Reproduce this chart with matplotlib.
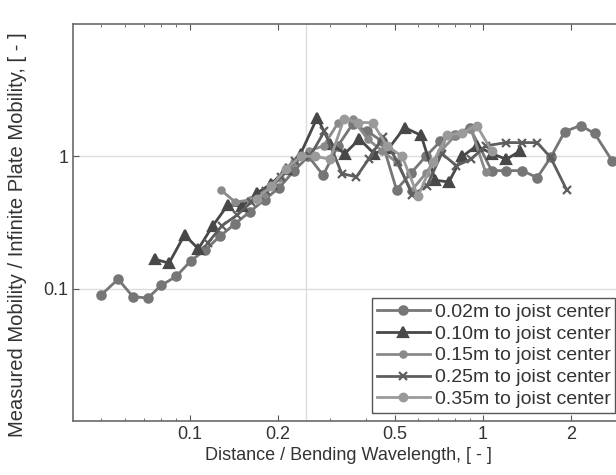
import matplotlib
matplotlib.use("Agg")
import matplotlib.pyplot as plt
from matplotlib.ticker import FixedLocator, NullFormatter, FixedFormatter

plt.rcParams['font.family'] = ['Liberation Sans', 'DejaVu Sans']

labels = ["0.02m to joist center", "0.10m to joist center", "0.15m to joist center",
          "0.25m to joist center", "0.35m to joist center"]

x_a = [0.050, 0.057, 0.064, 0.072, 0.080, 0.090, 0.101, 0.113, 0.127, 0.143, 0.160, 0.180,
       0.202, 0.227, 0.254, 0.285, 0.320, 0.359, 0.403, 0.452, 0.507, 0.569, 0.638, 0.716,
       0.803, 0.901, 1.07, 1.20, 1.36, 1.53, 1.70, 1.90, 2.15, 2.40, 2.75]
y_a = [0.090, 0.118, 0.087, 0.085, 0.106, 0.124, 0.163, 0.196, 0.25, 0.31, 0.38, 0.47,
       0.58, 0.78, 1.00, 0.72, 1.20, 1.75, 1.55, 1.30, 0.56, 0.75, 1.00, 1.30,
       1.45, 1.65, 0.78, 0.78, 0.78, 0.69, 0.98, 1.54, 1.71, 1.49, 0.93]

x_b = [0.076, 0.085, 0.096, 0.107, 0.120, 0.135, 0.151, 0.170, 0.190, 0.213, 0.239, 0.272,
       0.301, 0.338, 0.379, 0.425, 0.477, 0.540, 0.615, 0.687, 0.765, 0.850, 0.951, 1.07,
       1.20, 1.34]
y_b = [0.167, 0.156, 0.255, 0.20, 0.30, 0.43, 0.42, 0.53, 0.62, 0.80, 1.05, 1.96,
       1.25, 1.05, 1.35, 1.05, 1.15, 1.65, 1.44, 0.66, 0.64, 1.00, 1.20, 1.05,
       0.95, 1.10]

x_c = [0.128, 0.143, 0.161, 0.181, 0.203, 0.227, 0.255, 0.286, 0.321, 0.360, 0.404, 0.453,
       0.508, 0.570, 0.640, 0.718, 0.806, 0.910, 1.02]
y_c = [0.555, 0.45, 0.47, 0.52, 0.68, 0.90, 1.10, 1.20, 1.80, 1.90, 1.35, 1.10,
       0.90, 0.55, 0.75, 1.10, 1.44, 1.60, 0.76]

x_d = [0.115, 0.129, 0.145, 0.162, 0.182, 0.204, 0.229, 0.257, 0.288, 0.330, 0.370, 0.407,
       0.456, 0.512, 0.574, 0.644, 0.723, 0.811, 0.910, 1.02, 1.20, 1.36, 1.53, 1.70, 1.93]
y_d = [0.22, 0.30, 0.36, 0.45, 0.55, 0.70, 0.92, 1.00, 1.55, 0.74, 0.70, 0.95,
       1.40, 0.90, 0.51, 0.60, 1.05, 0.85, 0.95, 1.20, 1.27, 1.27, 1.27, 0.98, 0.555]

x_e = [0.170, 0.190, 0.213, 0.239, 0.268, 0.301, 0.336, 0.375, 0.420, 0.470, 0.530, 0.600,
       0.674, 0.756, 0.848, 0.951, 1.07]
y_e = [0.48, 0.60, 0.80, 1.00, 1.00, 0.95, 1.93, 1.80, 1.80, 1.20, 1.00, 0.50,
       0.90, 1.45, 1.50, 1.71, 1.10]

x_ticks = [0.1, 0.2, 0.5, 1, 2]
x_tick_labels = ["0.1", "0.2", "0.5", "1", "2"]
y_ticks = [0.1, 1]
y_tick_labels = ["0.1", "1"]
x_minor = [0.05, 0.06, 0.07, 0.08, 0.09, 0.3, 0.4, 0.6, 0.7, 0.8, 0.9, 3]
ref_x = 0.25

series = [(x_a, y_a), (x_b, y_b), (x_c, y_c), (x_d, y_d), (x_e, y_e)]
colors = ['#767676', '#484848', '#8a8a8a', '#5e5e5e', '#9a9a9a']
markers = ['o', '^', 'o', 'x', 'o']
msizes = [6, 6.5, 4.5, 6, 5.5]
styles = ['-', '-', '-', '-', '-']

fig = plt.figure(figsize=(6.16, 4.75), dpi=100)
ax = fig.add_axes([73/616, 1 - 421/475, (623 - 73)/616, (421 - 24)/475])

for (xs, ys), c, m, ms, ls, lab in zip(series, colors, markers, msizes, styles, labels):
    ax.plot(xs, ys, color=c, marker=m, markersize=ms, linestyle=ls, linewidth=2.0,
            markeredgewidth=1.6, label=lab)

ax.set_xscale('log')
ax.set_yscale('log')
ax.set_xlim(0.04, 3)
ax.set_ylim(0.01, 10)

ax.xaxis.set_major_locator(FixedLocator(x_ticks))
ax.xaxis.set_major_formatter(FixedFormatter(x_tick_labels))
ax.xaxis.set_minor_locator(FixedLocator(x_minor))
ax.xaxis.set_minor_formatter(NullFormatter())
ax.yaxis.set_major_locator(FixedLocator(y_ticks))
ax.yaxis.set_major_formatter(FixedFormatter(y_tick_labels))
ax.yaxis.set_minor_locator(FixedLocator([]))

ax.tick_params(which='both', direction='in', top=True, right=True, colors='#555555',
               labelcolor='#333333', labelsize=13)
ax.tick_params(which='major', length=4)
ax.tick_params(which='minor', length=2.5)

ax.grid(True, axis='y', which='major', color='#dcdcdc', linewidth=1)
ax.axvline(ref_x, color='#dcdcdc', linewidth=1, zorder=0)
for s in ax.spines.values():
    s.set_color('#6a6a6a')
    s.set_linewidth(1.2)

ax.set_xlabel("Distance / Bending Wavelength, [ - ]", fontsize=13, color='#333333', labelpad=3)
ax.set_ylabel("Measured Mobility / Infinite Plate Mobility, [ - ]", fontsize=14.5,
              color='#333333')
ax.yaxis.set_label_coords(-0.083, 0.47)

leg = ax.legend(loc='lower right', bbox_to_anchor=(0.986, 0.02), fontsize=14, frameon=True,
                fancybox=False, edgecolor='#555555', framealpha=1, handlelength=2.7,
                handletextpad=0.25, borderpad=0.25, labelspacing=0.22, borderaxespad=0.0)
leg.get_frame().set_linewidth(1.0)
for t in leg.get_texts():
    t.set_color('#333333')

fig.savefig('out.png', dpi=100)
